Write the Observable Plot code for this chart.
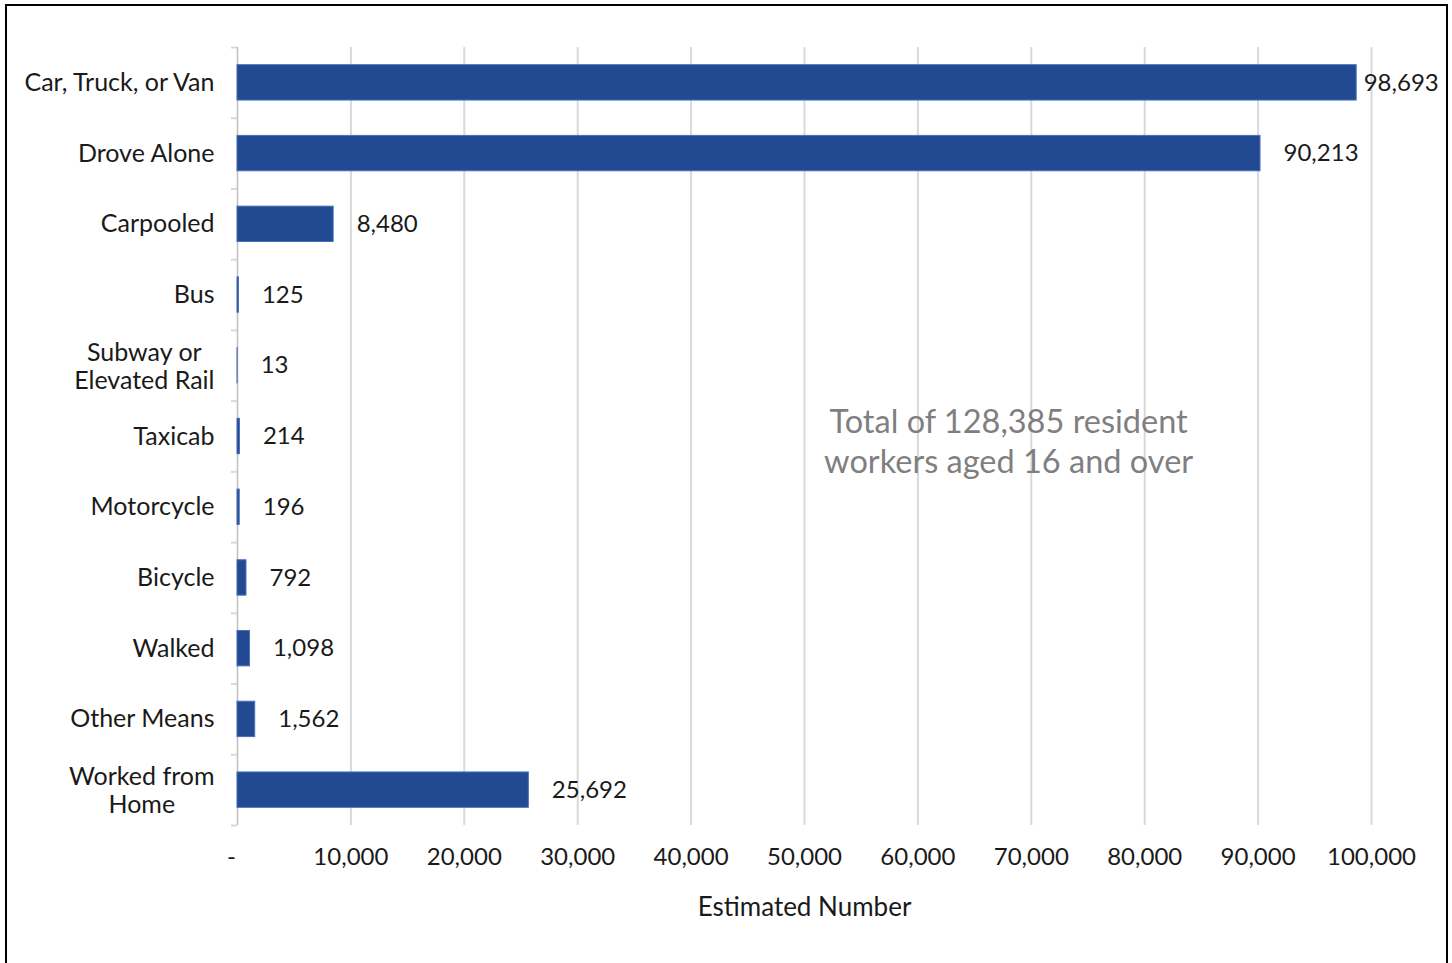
<!DOCTYPE html>
<html>
<head>
<meta charset="utf-8">
<script src="https://cdn.jsdelivr.net/npm/d3@7"></script>
<script src="https://cdn.jsdelivr.net/npm/@observablehq/plot@0.6"></script>
<style>
  html, body { margin: 0; padding: 0; background: #fff; overflow: hidden; }
  #frame { position: absolute; left: 5px; top: 4px; width: 1439px; height: 1000px; border: 2px solid #000; }
  #chart { position: absolute; left: 0; top: 0; }
  svg { font-family: Lato, "Open Sans", sans-serif; }
</style>
</head>
<body>
<div id="frame"></div>
<div id="chart"></div>
<script>
const categories = ["Car, Truck, or Van", "Drove Alone", "Carpooled", "Bus", "Subway or\nElevated Rail", "Taxicab", "Motorcycle", "Bicycle", "Walked", "Other Means", "Worked from\nHome"];
const values = [98693, 90213, 8480, 125, 13, 214, 196, 792, 1098, 1562, 25692];
const xTicks = [0, 10000, 20000, 30000, 40000, 50000, 60000, 70000, 80000, 90000, 100000];
const annotation = "Total of 128,385 resident\nworkers aged 16 and over";
const xLabel = "Estimated Number";

const data = categories.map((c, i) => ({category: c, value: values[i]}));
const fmt = d3.format(",");

const W = 1452, H = 963;
const mTop = 47, mBottom = 138, mLeft = 237, mRight = 81;
const step = (H - mTop - mBottom) / categories.length;
const catSize = 25;

const singles = data.filter(d => !d.category.includes("\n"));
const multis = data.filter(d => d.category.includes("\n"));

// measure width of longest line for centered multi-line labels
const ctx = document.createElement("canvas").getContext("2d");
ctx.font = catSize + "px Lato";
const multiMarks = multis.map(d => {
  const w = Math.max(...d.category.split("\n").map(s => ctx.measureText(s).width));
  return Plot.text([d], {x: 0, y: "category", text: "category", textAnchor: "middle", dx: -(23 + w / 2), fontSize: catSize, fill: "#1a1a1a", lineHeight: 1.12});
});

const big = data.filter(d => d.value > 95000);
const rest = data.filter(d => d.value <= 95000);

const plot = Plot.plot({
  width: W,
  height: H,
  marginTop: mTop,
  marginBottom: mBottom,
  marginLeft: mLeft,
  marginRight: mRight,
  style: {fontFamily: "Lato, 'Open Sans', sans-serif", background: "transparent"},
  x: {domain: [0, 100000], axis: null},
  y: {domain: categories, paddingInner: 0.5, paddingOuter: 0.25, round: false, axis: null},
  marks: [
    Plot.ruleX(xTicks.slice(1), {stroke: "#d9d9d9", strokeWidth: 2}),
    Plot.ruleX([0], {stroke: "#bfbfbf", strokeWidth: 1.5}),
    Plot.ruleY(categories, {y: d => d, x1: 0, x2: 0, insetLeft: -6, dy: -step / 2, stroke: "#d9d9d9", strokeWidth: 2}),
    Plot.ruleY(categories.slice(-1), {y: d => d, x1: 0, x2: 0, insetLeft: -6, dy: step / 2, stroke: "#d9d9d9", strokeWidth: 2}),
    Plot.barX(data, {x: "value", y: "category", fill: "#224A93", stroke: "#4a6fb8", strokeWidth: 1}),
    Plot.text(rest, {x: "value", y: "category", text: d => fmt(d.value), textAnchor: "start", dx: 23, fontSize: 24, fill: "#1a1a1a"}),
    Plot.text(big, {x: "value", y: "category", text: d => fmt(d.value), textAnchor: "start", dx: 7, fontSize: 24, fill: "#1a1a1a"}),
    Plot.text(singles, {x: 0, y: "category", text: "category", textAnchor: "end", dx: -23, fontSize: catSize, fill: "#1a1a1a"}),
    ...multiMarks,
    Plot.text([annotation], {x: 68000, y: [categories[5]], text: d => d, textAnchor: "middle", dy: 4, fontSize: 32.5, fill: "#7f7f7f", lineHeight: 1.23}),
    Plot.axisX(xTicks.slice(1), {tickSize: 0, tickPadding: 22, fontSize: 24, tickFormat: fmt, label: null, color: "#1a1a1a"}),
    Plot.axisX([0], {tickSize: 0, tickPadding: 22, fontSize: 24, tickFormat: () => "-", label: null, dx: -6, color: "#1a1a1a"}),
    Plot.text([xLabel], {frameAnchor: "bottom", dy: 90, text: d => d, fontSize: 26, fill: "#1a1a1a"})
  ]
});
document.getElementById("chart").appendChild(plot);
</script>
</body>
</html>
